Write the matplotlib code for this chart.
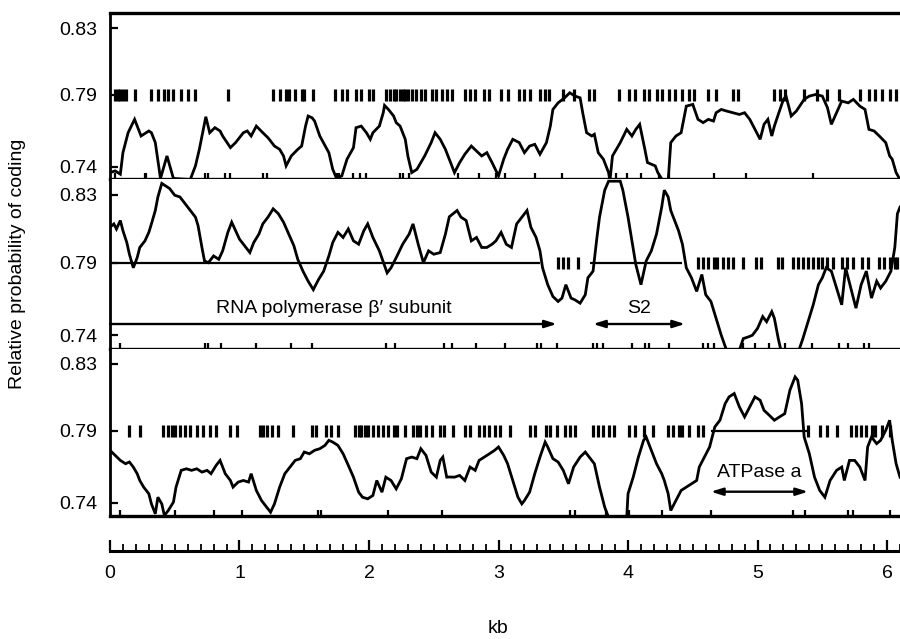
import numpy as np
import matplotlib.pyplot as plt
from matplotlib.ticker import MultipleLocator

plt.rcParams['font.family'] = ['Liberation Sans', 'DejaVu Sans']

# coding probability read along the sequence (kb) for the three panels
top_kb = [0.00, 0.04, 0.08, 0.10, 0.14, 0.19, 0.24, 0.30, 0.32, 0.35, 0.39, 0.44, 0.49, 0.62, 0.66,
          0.69, 0.74, 0.77, 0.81, 0.85, 0.87, 0.93, 0.97, 1.03, 1.06, 1.09, 1.13, 1.18, 1.22, 1.27,
          1.31, 1.34, 1.36, 1.40, 1.45, 1.48, 1.51, 1.53, 1.56, 1.58, 1.62, 1.69, 1.72, 1.75, 1.79,
          1.83, 1.88, 1.90, 1.94, 1.98, 2.01, 2.03, 2.08, 2.11, 2.12, 2.15, 2.19, 2.21, 2.24, 2.28,
          2.30, 2.33, 2.37, 2.43, 2.48, 2.51, 2.55, 2.59, 2.62, 2.66, 2.70, 2.74, 2.79, 2.83, 2.87,
          2.91, 2.95, 3.00, 3.04, 3.07, 3.11, 3.16, 3.20, 3.24, 3.28, 3.32, 3.37, 3.40, 3.42, 3.46,
          3.51, 3.55, 3.59, 3.63, 3.65, 3.68, 3.72, 3.74, 3.77, 3.81, 3.85, 3.86, 3.88, 3.94, 3.99,
          4.03, 4.06, 4.09, 4.13, 4.15, 4.21, 4.23, 4.27, 4.31, 4.33, 4.37, 4.41, 4.45, 4.50, 4.54,
          4.58, 4.62, 4.66, 4.68, 4.72, 4.76, 4.81, 4.86, 4.90, 4.94, 4.98, 5.02, 5.05, 5.08, 5.11,
          5.13, 5.16, 5.20, 5.22, 5.26, 5.30, 5.36, 5.40, 5.45, 5.50, 5.54, 5.57, 5.61, 5.65, 5.70,
          5.74, 5.79, 5.83, 5.86, 5.90, 5.94, 5.99, 6.02, 6.04, 6.07, 6.10]
top_prob = [0.7358, 0.7370, 0.7347, 0.7497, 0.7636, 0.7729, 0.7613, 0.7648, 0.7636, 0.7567, 0.7317,
            0.7474, 0.7317, 0.7310, 0.7405, 0.7520, 0.7747, 0.7636, 0.7671, 0.7648, 0.7613, 0.7532,
            0.7567, 0.7636, 0.7648, 0.7613, 0.7682, 0.7636, 0.7601, 0.7543, 0.7520, 0.7474, 0.7405,
            0.7474, 0.7520, 0.7543, 0.7682, 0.7752, 0.7740, 0.7717, 0.7613, 0.7497, 0.7381, 0.7317,
            0.7335, 0.7451, 0.7532, 0.7671, 0.7682, 0.7636, 0.7590, 0.7636, 0.7682, 0.7775, 0.7826,
            0.7798, 0.7752, 0.7706, 0.7682, 0.7590, 0.7474, 0.7358, 0.7381, 0.7474, 0.7567, 0.7636,
            0.7590, 0.7520, 0.7450, 0.7358, 0.7428, 0.7486, 0.7543, 0.7509, 0.7474, 0.7497, 0.7428,
            0.7335, 0.7451, 0.7520, 0.7590, 0.7567, 0.7497, 0.7543, 0.7555, 0.7486, 0.7567, 0.7682,
            0.7798, 0.7844, 0.7879, 0.7912, 0.7891, 0.7879, 0.7775, 0.7636, 0.7613, 0.7625, 0.7497,
            0.7451, 0.7358, 0.7300, 0.7474, 0.7567, 0.7659, 0.7613, 0.7659, 0.7694, 0.7520, 0.7428,
            0.7405, 0.7358, 0.7300, 0.7300, 0.7567, 0.7613, 0.7636, 0.7821, 0.7833, 0.7729, 0.7706,
            0.7729, 0.7717, 0.7775, 0.7798, 0.7787, 0.7775, 0.7763, 0.7775, 0.7729, 0.7659, 0.7590,
            0.7694, 0.7729, 0.7613, 0.7682, 0.7763, 0.7868, 0.7891, 0.7752, 0.7787, 0.7868, 0.7891,
            0.7902, 0.7891, 0.7810, 0.7694, 0.7775, 0.7856, 0.7844, 0.7868, 0.7821, 0.7798, 0.7659,
            0.7648, 0.7613, 0.7567, 0.7474, 0.7451, 0.7358, 0.7310]

mid_kb = [0.00, 0.03, 0.05, 0.08, 0.10, 0.13, 0.15, 0.18, 0.21, 0.23, 0.27, 0.30, 0.32, 0.35, 0.37,
          0.40, 0.42, 0.46, 0.50, 0.54, 0.58, 0.62, 0.66, 0.68, 0.71, 0.73, 0.76, 0.80, 0.84, 0.87,
          0.91, 0.94, 0.97, 1.00, 1.04, 1.08, 1.11, 1.15, 1.18, 1.22, 1.26, 1.30, 1.34, 1.38, 1.42,
          1.45, 1.49, 1.53, 1.57, 1.61, 1.65, 1.69, 1.72, 1.76, 1.80, 1.84, 1.88, 1.92, 1.96, 1.99,
          2.03, 2.08, 2.14, 2.17, 2.21, 2.26, 2.31, 2.34, 2.38, 2.42, 2.46, 2.50, 2.55, 2.59, 2.62,
          2.68, 2.71, 2.75, 2.79, 2.83, 2.87, 2.91, 2.95, 2.98, 3.02, 3.06, 3.10, 3.14, 3.18, 3.22,
          3.25, 3.29, 3.32, 3.34, 3.38, 3.42, 3.46, 3.49, 3.52, 3.56, 3.59, 3.63, 3.67, 3.69, 3.73,
          3.76, 3.78, 3.82, 3.85, 3.94, 3.96, 4.00, 4.03, 4.06, 4.10, 4.14, 4.18, 4.22, 4.26, 4.28,
          4.31, 4.33, 4.39, 4.42, 4.45, 4.49, 4.53, 4.57, 4.60, 4.64, 4.68, 4.72, 4.76, 4.86, 4.89,
          4.93, 4.96, 5.00, 5.04, 5.07, 5.11, 5.13, 5.16, 5.18, 5.32, 5.35, 5.39, 5.43, 5.47, 5.50,
          5.53, 5.57, 5.61, 5.65, 5.68, 5.72, 5.76, 5.80, 5.84, 5.88, 5.92, 5.95, 5.99, 6.03, 6.06,
          6.08, 6.10]
mid_prob = [0.8108, 0.8128, 0.8098, 0.8148, 0.8088, 0.8018, 0.7949, 0.7864, 0.7929, 0.7989, 0.8028,
            0.8078, 0.8128, 0.8207, 0.8287, 0.8367, 0.8357, 0.8337, 0.8297, 0.8287, 0.8247, 0.8207,
            0.8168, 0.8118, 0.7989, 0.7909, 0.7899, 0.7939, 0.7919, 0.7969, 0.8078, 0.8138, 0.8088,
            0.8038, 0.7999, 0.7959, 0.8018, 0.8068, 0.8128, 0.8168, 0.8217, 0.8188, 0.8138, 0.8068,
            0.7999, 0.7919, 0.7841, 0.7772, 0.7714, 0.7783, 0.7841, 0.7939, 0.8018, 0.8078, 0.8048,
            0.8098, 0.8028, 0.8008, 0.8088, 0.8128, 0.8048, 0.7969, 0.7829, 0.7864, 0.7929, 0.8008,
            0.8068, 0.8128, 0.8008, 0.7899, 0.7969, 0.7949, 0.7959, 0.8068, 0.8170, 0.8207, 0.8168,
            0.8148, 0.8028, 0.8048, 0.7989, 0.7989, 0.8008, 0.8028, 0.8078, 0.8008, 0.7989, 0.8128,
            0.8168, 0.8207, 0.8108, 0.8048, 0.7969, 0.7864, 0.7748, 0.7667, 0.7633, 0.7656, 0.7748,
            0.7656, 0.7644, 0.7621, 0.7679, 0.7795, 0.7841, 0.8048, 0.8168, 0.8327, 0.8380, 0.8380,
            0.8327, 0.8168, 0.8028, 0.7887, 0.7748, 0.7909, 0.7969, 0.8068, 0.8227, 0.8327, 0.8287,
            0.8207, 0.8088, 0.8008, 0.7864, 0.7795, 0.7702, 0.7818, 0.7679, 0.7633, 0.7517, 0.7401,
            0.7300, 0.7300, 0.7378, 0.7390, 0.7401, 0.7448, 0.7529, 0.7494, 0.7563, 0.7517, 0.7378,
            0.7300, 0.7300, 0.7378, 0.7494, 0.7610, 0.7748, 0.7795, 0.7864, 0.7841, 0.7725, 0.7610,
            0.7864, 0.7725, 0.7587, 0.7748, 0.7841, 0.7656, 0.7772, 0.7725, 0.7772, 0.7841, 0.7989,
            0.8188, 0.8227]

low_kb = [0.00, 0.04, 0.08, 0.12, 0.15, 0.18, 0.21, 0.23, 0.26, 0.30, 0.32, 0.35, 0.37, 0.40, 0.42,
          0.45, 0.49, 0.51, 0.55, 0.59, 0.63, 0.67, 0.71, 0.75, 0.78, 0.82, 0.85, 0.89, 0.93, 0.95,
          0.99, 1.03, 1.07, 1.09, 1.13, 1.17, 1.21, 1.24, 1.27, 1.31, 1.35, 1.39, 1.43, 1.47, 1.50,
          1.54, 1.58, 1.62, 1.66, 1.69, 1.72, 1.76, 1.80, 1.84, 1.88, 1.92, 1.95, 1.99, 2.03, 2.06,
          2.10, 2.13, 2.17, 2.21, 2.25, 2.29, 2.33, 2.37, 2.40, 2.44, 2.48, 2.52, 2.55, 2.57, 2.60,
          2.62, 2.66, 2.70, 2.74, 2.78, 2.82, 2.85, 2.89, 2.93, 2.97, 3.00, 3.04, 3.07, 3.11, 3.15,
          3.18, 3.20, 3.24, 3.28, 3.32, 3.36, 3.38, 3.42, 3.46, 3.50, 3.54, 3.58, 3.63, 3.67, 3.70,
          3.74, 3.78, 3.82, 3.85, 3.99, 4.00, 4.04, 4.08, 4.12, 4.14, 4.18, 4.22, 4.26, 4.28, 4.31,
          4.33, 4.37, 4.41, 4.45, 4.49, 4.53, 4.55, 4.59, 4.63, 4.67, 4.71, 4.75, 4.78, 4.82, 4.86,
          4.90, 4.94, 4.98, 5.02, 5.05, 5.09, 5.13, 5.17, 5.21, 5.25, 5.29, 5.31, 5.34, 5.36, 5.40,
          5.44, 5.48, 5.52, 5.56, 5.61, 5.65, 5.67, 5.71, 5.75, 5.79, 5.83, 5.85, 5.88, 5.92, 5.95,
          5.99, 6.02, 6.04, 6.07, 6.10]
low_prob = [0.7765, 0.7730, 0.7695, 0.7672, 0.7684, 0.7649, 0.7603, 0.7556, 0.7510, 0.7464, 0.7394,
            0.7325, 0.7440, 0.7394, 0.7313, 0.7348, 0.7406, 0.7510, 0.7626, 0.7637, 0.7626, 0.7637,
            0.7614, 0.7626, 0.7603, 0.7661, 0.7695, 0.7603, 0.7556, 0.7510, 0.7545, 0.7556, 0.7545,
            0.7603, 0.7487, 0.7417, 0.7371, 0.7336, 0.7394, 0.7510, 0.7603, 0.7649, 0.7695, 0.7707,
            0.7753, 0.7741, 0.7765, 0.7776, 0.7799, 0.7834, 0.7822, 0.7799, 0.7741, 0.7661, 0.7579,
            0.7475, 0.7440, 0.7429, 0.7452, 0.7556, 0.7475, 0.7579, 0.7556, 0.7498, 0.7568, 0.7707,
            0.7718, 0.7707, 0.7776, 0.7730, 0.7614, 0.7579, 0.7695, 0.7718, 0.7579, 0.7580, 0.7579,
            0.7591, 0.7556, 0.7649, 0.7626, 0.7695, 0.7718, 0.7741, 0.7765, 0.7788, 0.7730, 0.7672,
            0.7556, 0.7440, 0.7394, 0.7417, 0.7475, 0.7603, 0.7718, 0.7822, 0.7788, 0.7707, 0.7684,
            0.7626, 0.7533, 0.7649, 0.7718, 0.7753, 0.7718, 0.7672, 0.7510, 0.7371, 0.7300, 0.7300,
            0.7464, 0.7579, 0.7718, 0.7834, 0.7857, 0.7765, 0.7672, 0.7603, 0.7556, 0.7464, 0.7348,
            0.7417, 0.7487, 0.7510, 0.7533, 0.7556, 0.7649, 0.7718, 0.7788, 0.7923, 0.7963, 0.8062,
            0.8102, 0.8122, 0.8042, 0.7983, 0.8042, 0.8102, 0.8082, 0.8022, 0.7993, 0.7963, 0.7983,
            0.8002, 0.8142, 0.8221, 0.8202, 0.8062, 0.7857, 0.7741, 0.7579, 0.7487, 0.7440, 0.7556,
            0.7626, 0.7649, 0.7556, 0.7695, 0.7695, 0.7649, 0.7556, 0.7788, 0.7857, 0.7811, 0.7834,
            0.7903, 0.7963, 0.7834, 0.7672, 0.7579]

# stop codons, drawn as bars at the 0.79 level
top_stops = [0.04, 0.06, 0.08, 0.10, 0.12, 0.19, 0.32, 0.37, 0.42, 0.45, 0.49, 0.55, 0.60, 0.66,
             0.91, 1.26, 1.31, 1.36, 1.38, 1.43, 1.48, 1.50, 1.57, 1.74, 1.79, 1.83, 1.90, 1.94,
             2.00, 2.03, 2.13, 2.16, 2.19, 2.21, 2.24, 2.26, 2.28, 2.30, 2.33, 2.36, 2.40, 2.43,
             2.49, 2.52, 2.56, 2.60, 2.64, 2.74, 2.78, 2.82, 2.89, 2.93, 3.02, 3.07, 3.16, 3.20,
             3.24, 3.32, 3.36, 3.39, 3.50, 3.58, 3.70, 3.74, 3.93, 4.01, 4.05, 4.12, 4.16, 4.22,
             4.26, 4.32, 4.36, 4.42, 4.47, 4.51, 4.62, 4.68, 4.81, 4.85, 5.13, 5.17, 5.21, 5.36,
             5.46, 5.54, 5.63, 5.79, 5.86, 5.91, 5.96, 6.02, 6.07]
mid_stops = [3.46, 3.50, 3.54, 3.61, 4.54, 4.58, 4.62, 4.66, 4.69, 4.73, 4.77, 4.81, 4.89, 4.99,
             5.03, 5.16, 5.19, 5.27, 5.31, 5.35, 5.39, 5.43, 5.47, 5.50, 5.54, 5.58, 5.65, 5.69,
             5.74, 5.81, 5.85, 5.94, 5.98, 6.02, 6.06, 6.08]
low_stops = [0.15, 0.23, 0.41, 0.45, 0.48, 0.50, 0.54, 0.58, 0.62, 0.67, 0.72, 0.77, 0.82, 0.93,
             0.98, 1.16, 1.18, 1.21, 1.25, 1.30, 1.41, 1.56, 1.59, 1.67, 1.71, 1.76, 1.89, 1.92,
             1.94, 1.97, 1.99, 2.03, 2.07, 2.11, 2.15, 2.19, 2.22, 2.28, 2.34, 2.37, 2.39, 2.44,
             2.49, 2.55, 2.58, 2.65, 2.74, 2.78, 2.85, 2.89, 2.93, 2.97, 3.01, 3.09, 3.24, 3.28,
             3.37, 3.40, 3.45, 3.51, 3.55, 3.59, 3.73, 3.77, 3.81, 3.85, 3.89, 4.01, 4.05, 4.12,
             4.19, 4.31, 4.35, 4.39, 4.42, 4.47, 4.54, 4.58, 5.39, 5.48, 5.54, 5.61, 5.72, 5.76,
             5.80, 5.84, 5.88, 5.91, 5.96, 6.02]

# small marks along the bottom edge of each panel
top_marks = [0.04, 0.27, 0.28, 0.73, 0.76, 0.89, 0.93, 1.18, 1.21, 1.75, 1.77, 1.88, 1.93, 1.98,
             2.24, 2.26, 2.31, 2.69, 2.85, 2.98, 3.05, 3.28, 3.49, 3.86, 3.91, 3.99, 4.10, 4.24,
             4.32, 4.66, 4.91, 5.43]
mid_marks = [0.08, 0.73, 0.76, 0.86, 1.13, 1.40, 1.56, 2.13, 2.20, 2.58, 2.64, 2.83, 3.05, 3.30,
             3.33, 3.45, 3.73, 3.76, 3.81, 4.03, 4.13, 4.16, 4.32, 4.58, 4.62, 4.66, 4.89, 4.98,
             5.09, 5.21, 5.42, 5.63, 5.70, 5.82, 5.86]
low_marks = [0.08, 0.50, 0.80, 1.02, 1.61, 1.63, 2.15, 2.56, 3.55, 3.59, 3.83, 4.01, 4.26, 4.64,
             5.27, 5.37, 5.70, 5.74, 6.02]

# open reading frames shown as a line at 0.79
mid_orfs = [(0.0, 3.32), (3.71, 4.42)]
low_orfs = [(4.64, 5.38)]

# genes: label, start kb, end kb, double headed
mid_genes = [("RNA polymerase β′ subunit", 0.0, 3.45, False), ("S2", 3.73, 4.44, True)]
low_genes = [("ATPase a", 4.64, 5.39, True)]

y_ticks = [0.74, 0.79, 0.83]
kb_ticks = [0, 1, 2, 3, 4, 5, 6]


# uneven probability axis: 0.74-0.79 and 0.79-0.83 get about the same height
def fwd(v):
    v = np.asarray(v, dtype=float)
    return np.where(v >= 0.79, (v - 0.79) / 0.04 * 67, (v - 0.79) / 0.05 * 72)


def inv(u):
    u = np.asarray(u, dtype=float)
    return np.where(u >= 0, 0.79 + u * 0.04 / 67, 0.79 + u * 0.05 / 72)


def draw_panel(ax, kb, prob, stops, marks, orfs, genes, arrow_y=0.145, text_y=0.24):
    ax.set_yscale('function', functions=(fwd, inv))
    ax.set_xlim(0, 6.1)
    ax.set_ylim(0.731, 0.839)
    ax.plot(kb, prob, color='black', lw=2.0, solid_joinstyle='miter')
    ax.plot(stops, [0.79] * len(stops), ls='none', marker='|', ms=8, mew=2.3, color='black')
    ax.plot(marks, [0] * len(marks), ls='none', marker=2, ms=4, mew=1.6, color='black',
            transform=ax.get_xaxis_transform(), clip_on=False)
    for a, b in orfs:
        ax.hlines(0.79, a, b, color='black', lw=1.6)
    for name, a, b, both in genes:
        style = '<|-|>' if both else '-|>'
        ax.annotate('', xy=(b, arrow_y), xytext=(a, arrow_y),
                    xycoords=('data', 'axes fraction'), textcoords=('data', 'axes fraction'),
                    arrowprops=dict(arrowstyle=style + ',head_length=0.7,head_width=0.22',
                                    color='black', lw=1.7, shrinkA=0, shrinkB=0))
        ax.text((a + b) / 2, text_y, name, transform=ax.get_xaxis_transform(),
                ha='center', va='center', fontsize=14)
    ax.set_xticks([])
    ax.set_yticks(y_ticks)
    ax.set_yticklabels([f'{t:.2f}' for t in y_ticks])
    ax.yaxis.set_minor_locator(plt.NullLocator())
    ax.tick_params(axis='y', direction='in', length=6, width=1.6, labelsize=14, pad=9)
    ax.spines['right'].set_visible(False)
    ax.spines['bottom'].set_linewidth(2.4)
    ax.spines['left'].set_linewidth(2.0)
    ax.spines['top'].set_linewidth(2.4)


fig = plt.figure(figsize=(9, 6.39), dpi=100)
ax1 = fig.add_axes([0.1222, 0.7191, 0.8778, 0.2606])
ax2 = fig.add_axes([0.1222, 0.4546, 0.8778, 0.2645])
ax3 = fig.add_axes([0.1222, 0.1925, 0.8778, 0.2621])

draw_panel(ax1, top_kb, top_prob, top_stops, top_marks, [], [])
draw_panel(ax2, mid_kb, mid_prob, mid_stops, mid_marks, mid_orfs, mid_genes, 0.145, 0.235)
draw_panel(ax3, low_kb, low_prob, low_stops, low_marks, low_orfs, low_genes, 0.145, 0.26)
ax2.spines['top'].set_visible(False)
ax3.spines['top'].set_visible(False)

fig.text(0.02, 0.587, 'Relative probability of coding', rotation=90,
         ha='center', va='center', fontsize=14)

# separate kb scale bar under the panels
ax4 = fig.add_axes([0.1222, 1 - 551 / 639, 0.8778, 0.001])
ax4.set_xlim(0, 6.1)
for side in ['left', 'right', 'top']:
    ax4.spines[side].set_visible(False)
ax4.spines['bottom'].set_linewidth(2.2)
ax4.set_yticks([])
ax4.set_xticks(kb_ticks)
ax4.xaxis.set_minor_locator(MultipleLocator(0.1))
ax4.tick_params(axis='x', which='major', direction='in', length=8, width=1.6, labelsize=14, pad=10)
ax4.tick_params(axis='x', which='minor', direction='in', length=5, width=1.3)
fig.text(0.5533, 0.0172, 'kb', ha='center', va='center', fontsize=14)

fig.savefig('out.png', dpi=100)
